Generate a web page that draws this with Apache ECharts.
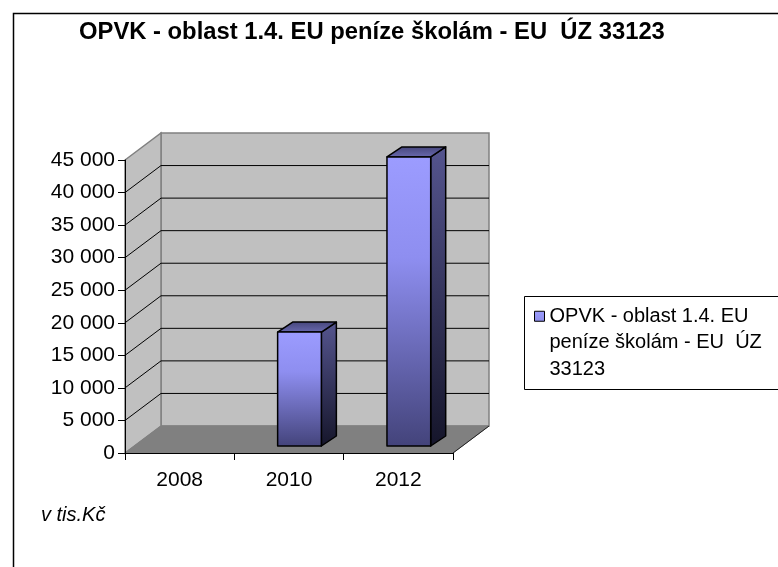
<!DOCTYPE html>
<html><head><meta charset="utf-8">
<script src="https://cdn.jsdelivr.net/npm/echarts@6/dist/echarts.min.js"></script>
<style>html,body{margin:0;padding:0;background:#fff}#c{width:778px;height:567px}</style>
</head><body><div id="c"></div>
<script>
// ---- data ----
const titleText = 'OPVK - oblast 1.4. EU peníze školám - EU  ÚZ 33123';
const seriesName = 'OPVK - oblast 1.4. EU peníze školám - EU  ÚZ 33123';
const legendLines = ['OPVK - oblast 1.4. EU', 'peníze školám - EU  ÚZ', '33123'];
const unitNote = 'v tis.Kč';
const categories = ['2008', '2010', '2012'];
const values = [0, 17500, 44400];
const yTicks = [0, 5000, 10000, 15000, 20000, 25000, 30000, 35000, 40000, 45000];
const yMin = 0, yMax = 45000, yStep = 5000;

// ---- 3D look (pixel offsets, style only) ----
const DEPTH = [36, -27];
const BAR_OFF = [10.5, -7];
const BAR_DEPTH = [15, -10];
const BAR_W = 0.4;
const FONT = 'Liberation Sans';
const LEGEND_LINE_H = 26.5;
const LEGEND_ICON_H = Math.round(2 * (5 + LEGEND_LINE_H));

function fmt(v) { return String(v).replace(/\B(?=(\d{3})+(?!\d))/g, ' '); }

function renderWalls(params, api) {
  const v = api.value(1);
  const band = api.size([1, 0])[0];
  const p = api.coord([0, v]);
  const xl = p[0] - band / 2;
  const xr = api.coord([categories.length - 1, v])[0] + band / 2;
  const y = p[1];
  const dx = DEPTH[0], dy = DEPTH[1];
  const children = [];
  if (params.dataIndex === 0) {
    const yt = api.coord([0, yMax])[1];
    const yb = y;
    children.push({type: 'polygon', shape: {points: [[xl + dx, yt + dy], [xr + dx, yt + dy], [xr + dx, yb + dy], [xl + dx, yb + dy]]},
      style: {fill: '#c0c0c0', stroke: '#808080', lineWidth: 1.5}});
    children.push({type: 'polygon', shape: {points: [[xl, yt], [xl + dx, yt + dy], [xl + dx, yb + dy], [xl, yb]]},
      style: {fill: '#c0c0c0', stroke: '#808080', lineWidth: 1.5}});
    children.push({type: 'polygon', shape: {points: [[xl, yb], [xl + dx, yb + dy], [xr + dx, yb + dy], [xr, yb]]},
      style: {fill: '#808080', stroke: '#808080', lineWidth: 1}});
    children.push({type: 'line', shape: {x1: xr, y1: yb, x2: xr + dx, y2: yb + dy},
      style: {stroke: '#202020', lineWidth: 1}});
  } else if (v < yMax) {
    children.push({type: 'line', shape: {x1: xl + dx, y1: y + dy, x2: xr + dx, y2: y + dy},
      style: {stroke: '#000', lineWidth: 1}});
    children.push({type: 'line', shape: {x1: xl, y1: y, x2: xl + dx, y2: y + dy},
      style: {stroke: '#000', lineWidth: 1}});
  }
  return {type: 'group', children: children};
}

function renderBar(params, api) {
  const v = api.value(1);
  if (!v) return null;
  const i = api.value(0);
  const band = api.size([1, 0])[0];
  const base = api.coord([i, 0]);
  const top = api.coord([i, v]);
  const w = band * BAR_W;
  const x0 = base[0] - w / 2 + BAR_OFF[0], x1 = x0 + w;
  const yb = base[1] + BAR_OFF[1], yt = top[1] + BAR_OFF[1];
  const bx = BAR_DEPTH[0], by = BAR_DEPTH[1];
  const stroke = '#000';
  return {type: 'group', children: [
    {type: 'polygon', shape: {points: [[x1, yt], [x1 + bx, yt + by], [x1 + bx, yb + by], [x1, yb]]},
      style: {fill: new echarts.graphic.LinearGradient(0, 0, 0, 1, [
        {offset: 0, color: '#55558f'}, {offset: 1, color: '#15152a'}]), stroke: stroke, lineWidth: 1.5, lineJoin: 'round'}},
    {type: 'polygon', shape: {points: [[x0, yt], [x1, yt], [x1 + bx, yt + by], [x0 + bx, yt + by]]},
      style: {fill: new echarts.graphic.LinearGradient(0, 0, 0, 1, [
        {offset: 0, color: '#45457a'}, {offset: 1, color: '#6a6ab0'}]), stroke: stroke, lineWidth: 1.5, lineJoin: 'round'}},
    {type: 'polygon', shape: {points: [[x0, yt], [x1, yt], [x1, yb], [x0, yb]]},
      style: {fill: new echarts.graphic.LinearGradient(0, 0, 0, 1, [
        {offset: 0, color: '#9c9cff'}, {offset: 0.35, color: '#8e8ef0'}, {offset: 1, color: '#43437a'}]), stroke: stroke, lineWidth: 1.5, lineJoin: 'round'}}
  ]};
}

const chart = echarts.init(document.getElementById('c'), null, {renderer: 'canvas'});
chart.setOption({
  animation: false,
  backgroundColor: '#fff',
  textStyle: {fontFamily: FONT},
  title: [
    {text: titleText, left: 79, top: 20, padding: 0,
      textStyle: {fontFamily: FONT, fontSize: 23.8, fontWeight: 'bold', color: '#000'}},
    {text: unitNote, left: 41, top: 505, padding: 0,
      textStyle: {fontFamily: FONT, fontSize: 20, fontWeight: 'normal', fontStyle: 'italic', color: '#000'}}
  ],
  graphic: [
    {type: 'rect', left: 11, top: 11, shape: {width: 900, height: 700}, style: {fill: 'none', stroke: '#000', lineWidth: 1.5}, z: -1},
    {type: 'rect', left: 524, top: 296, shape: {width: 400, height: 93}, style: {fill: '#fff', stroke: '#000', lineWidth: 1}, z: -1}
  ],
  legend: {
    data: [seriesName], left: 534, top: 303, padding: 0,
    icon: 'path://M0,0h10v10h-10zM0,' + LEGEND_ICON_H,
    itemWidth: 10, itemHeight: LEGEND_ICON_H,
    formatter: function () { return legendLines.join('\n'); },
    itemStyle: {color: new echarts.graphic.LinearGradient(0, 0, 0, 1, [{offset: 0, color: '#9c9cff'}, {offset: 1, color: '#43437a'}]), borderColor: '#000', borderWidth: 1},
    textStyle: {fontFamily: FONT, fontSize: 20, lineHeight: LEGEND_LINE_H, color: '#000'}
  },
  grid: {left: 125, top: 160, width: 328, height: 293, outerBoundsMode: 'none', containLabel: false},
  xAxis: {type: 'category', data: categories, boundaryGap: true, z: 10,
    axisLine: {show: true, lineStyle: {color: '#000', width: 1}},
    axisTick: {show: true, length: 7, lineStyle: {color: '#000'}},
    axisLabel: {color: '#000', fontSize: 21, margin: 17, fontFamily: FONT},
    splitLine: {show: false}},
  yAxis: {type: 'value', min: yMin, max: yMax, interval: yStep, z: 10,
    axisLine: {show: true, lineStyle: {color: '#000', width: 1}},
    axisTick: {show: true, length: 7, lineStyle: {color: '#000'}},
    axisLabel: {color: '#000', fontSize: 21, margin: 10, fontFamily: FONT, formatter: fmt},
    splitLine: {show: false}},
  series: [
    {type: 'custom', name: 'walls', renderItem: renderWalls, silent: true, z: 1,
      encode: {x: 0, y: 1}, data: yTicks.map(function (t) { return [0, t]; })},
    {type: 'custom', name: seriesName, renderItem: renderBar, z: 3,
      itemStyle: {color: '#9999ff'},
      encode: {x: 0, y: 1}, data: values.map(function (v, i) { return [i, v]; })}
  ]
});
</script></body></html>
